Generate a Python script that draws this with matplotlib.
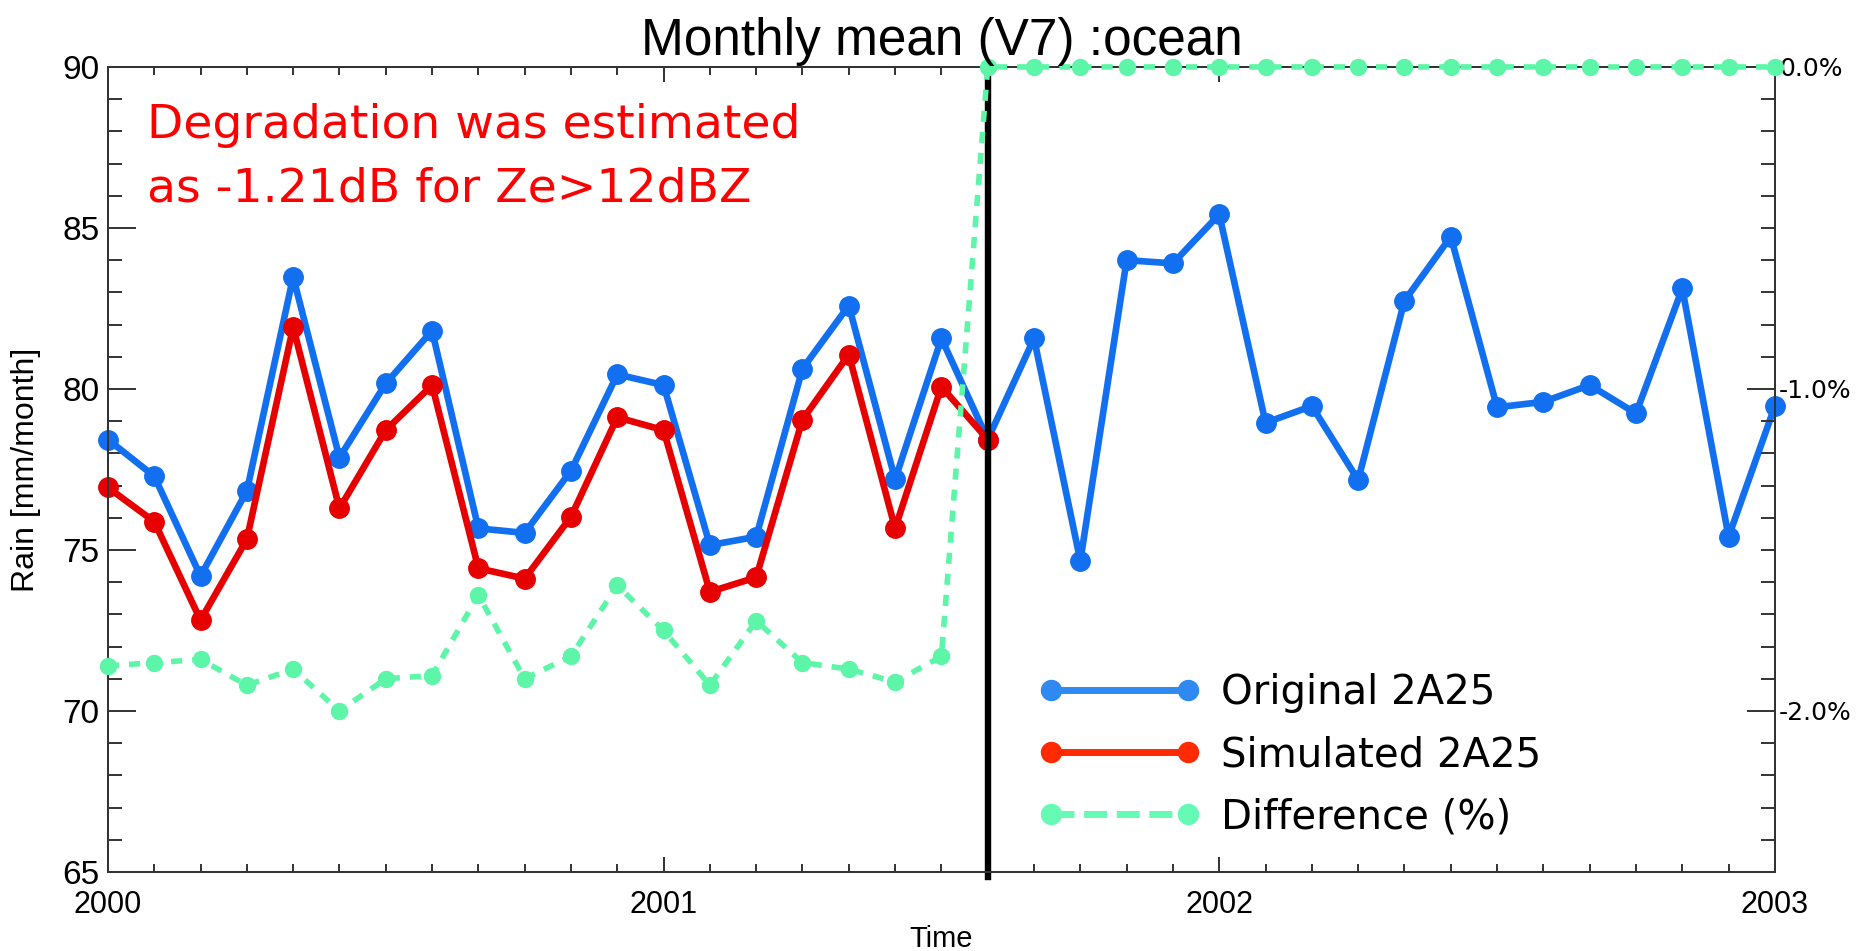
import matplotlib
matplotlib.use("Agg")
import numpy as np
import matplotlib.pyplot as plt
from matplotlib.lines import Line2D
from matplotlib.legend_handler import HandlerLine2D
from matplotlib.ticker import MultipleLocator, FixedLocator

# ---- data -------------------------------------------------------------
month_index = np.arange(37)                 # Jan 2000 ... Jan 2003
time_years = 2000 + month_index / 12.0

original_2a25 = [78.43, 77.29, 74.19, 76.83, 83.48, 77.87, 80.17, 81.81,
                 75.67, 75.53, 77.46, 80.45, 80.12, 75.15, 75.41, 80.63,
                 82.59, 77.19, 81.57, 78.43, 81.57, 74.66, 84.00, 83.90,
                 85.42, 78.95, 79.47, 77.17, 82.74, 84.73, 79.43, 79.60,
                 80.12, 79.24, 83.12, 75.41, 79.47]

simulated_2a25 = [76.94, 75.88, 72.82, 75.33, 81.92, 76.29, 78.72, 80.12,
                  74.43, 74.11, 76.03, 79.12, 78.72, 73.70, 74.15, 79.05,
                  81.07, 75.67, 80.07, 78.43]

difference_pct = [-1.86, -1.85, -1.84, -1.92, -1.87, -2.00, -1.90, -1.89,
                  -1.64, -1.90, -1.83, -1.61, -1.75, -1.92, -1.72, -1.85,
                  -1.87, -1.91, -1.83,
                  0.0, 0.0, 0.0, 0.0, 0.0, 0.0, 0.0, 0.0, 0.0,
                  0.0, 0.0, 0.0, 0.0, 0.0, 0.0, 0.0, 0.0, 0.0]

year_ticks = [2000, 2001, 2002, 2003]
year_labels = ["2000", "2001", "2002", "2003"]
pct_ticks = [0.0, -1.0, -2.0]
pct_labels = ["0.0%", "-1.0%", "-2.0%"]
switch_time = 2000 + 19 / 12.0              # end of the simulated record

series_labels = ["Original 2A25", "Simulated 2A25", "Difference (%)"]
note_lines = ["Degradation was estimated", "as -1.21dB for Ze>12dBZ"]

# ---- style ------------------------------------------------------------
BLUE, RED, GREEN = "#1270F0", "#E60000", "#5DF5A8"
LEG_BLUE, LEG_RED, LEG_GREEN = "#2E8AF0", "#FF2A00", "#66FAB4"
SPINE = "#333333"
HELV = ["Liberation Sans", "DejaVu Sans"]
SANS = ["DejaVu Sans"]

fig = plt.figure(figsize=(18.64, 9.51), dpi=100)
ax = fig.add_axes([0.0579, 0.0831, 0.8943, 0.8465])
ax2 = ax.twinx()

ax.plot(time_years, original_2a25, color=BLUE, lw=4.8, marker="o", ms=14,
        clip_on=False, zorder=3)
ax.plot(time_years[:len(simulated_2a25)], simulated_2a25, color=RED, lw=4.8,
        marker="o", ms=14, clip_on=False, zorder=3)
ax.axvline(switch_time, ymin=-0.006, ymax=1.0, color="black", lw=4.6,
           clip_on=False, zorder=5)
ax2.plot(time_years, difference_pct, color=GREEN, lw=4.0,
         ls=(0, (2.0, 1.8)), marker="o", ms=11.5, clip_on=False, zorder=6)

ax.set_xlim(2000, 2003)
ax.set_ylim(65, 90)
ax2.set_ylim(-2.5, 0.0)

# left axis
ax.yaxis.set_major_locator(MultipleLocator(5))
ax.yaxis.set_minor_locator(MultipleLocator(1))
ax.xaxis.set_major_locator(FixedLocator(year_ticks))
ax.xaxis.set_minor_locator(MultipleLocator(1 / 12.0))
ax.set_xticklabels(year_labels)

ax.tick_params(axis="both", which="both", direction="in", width=1.4,
               color=SPINE)
ax.tick_params(axis="y", which="major", length=20, labelsize=24, pad=6)
ax.tick_params(axis="y", which="minor", length=10)
ax.tick_params(axis="x", which="major", length=11, top=True,
               labelsize=22, pad=13)
ax.tick_params(axis="x", which="minor", length=6, top=True)
for lab in ax.get_xticklabels() + ax.get_yticklabels():
    lab.set_family(HELV)

# right axis (percent)
ax2.yaxis.set_major_locator(FixedLocator(pct_ticks))
ax2.set_yticklabels(pct_labels)
ax2.yaxis.set_minor_locator(MultipleLocator(0.1))
ax2.tick_params(axis="y", which="both", direction="in", width=1.4,
                color=SPINE)
ax2.tick_params(axis="y", which="major", length=20, labelsize=18, pad=3)
ax2.tick_params(axis="y", which="minor", length=10)
for lab in ax2.get_yticklabels():
    lab.set_family(SANS)

for a in (ax, ax2):
    for s in a.spines.values():
        s.set_color(SPINE)
        s.set_linewidth(1.4)

ax.set_ylabel("Rain [mm/month]", fontsize=23, family=HELV)
ax.yaxis.set_label_coords(-0.040, 0.5)
ax.set_xlabel("Time", fontsize=21, family=HELV)
ax.xaxis.set_label_coords(0.5, -0.066)

fig.text(942 / 1864, 1 - 42 / 951, "Monthly mean (V7) :ocean", ha="center",
         va="center", fontsize=37, family=HELV)

# annotation
for text, y in zip(note_lines, [1 - 138 / 951, 1 - 202 / 951]):
    fig.text(147 / 1864, y, text, color="red", fontsize=34, family=SANS,
             ha="left", va="baseline")

# legend
handles = [
    Line2D([], [], color=LEG_BLUE, lw=5, marker="o", ms=14.4),
    Line2D([], [], color=LEG_RED, lw=5, marker="o", ms=14.4),
    Line2D([], [], color=LEG_GREEN, lw=5, ls=(0, (3.3, 1.4)), marker="o",
           ms=14.4),
]
hmap = {h: HandlerLine2D(marker_pad=0.0, numpoints=2) for h in handles}
ax.legend(handles, series_labels, handler_map=hmap, loc="upper left",
          bbox_to_anchor=(1051 / 1864, 1 - 673 / 951),
          bbox_transform=fig.transFigure, frameon=False,
          prop={"family": SANS, "size": 29}, handlelength=3.4,
          handletextpad=0.83, labelspacing=0.55, borderpad=0,
          borderaxespad=0)

fig.savefig("out.png", dpi=100)
